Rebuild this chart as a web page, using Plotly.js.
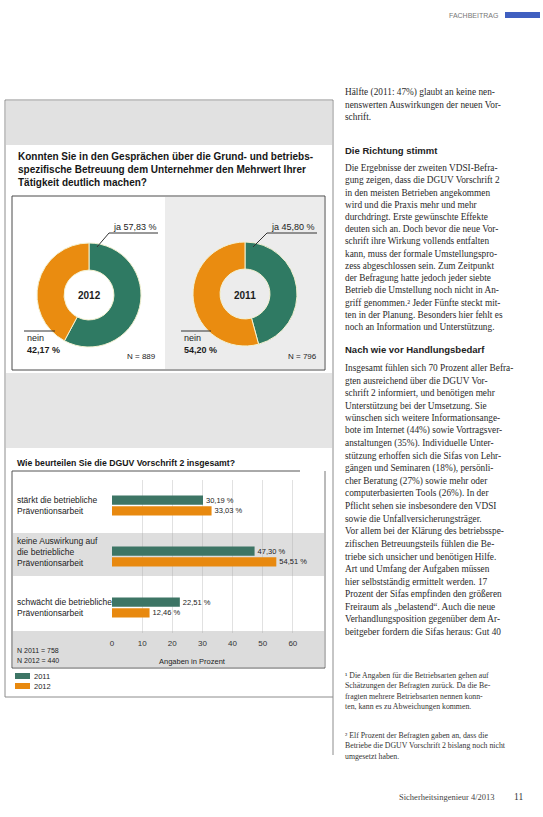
<!DOCTYPE html>
<html><head><meta charset="utf-8">
<script src="https://cdn.plot.ly/plotly-3.0.1.min.js"></script>
<style>html,body{margin:0;padding:0;background:#fff;} #chart{width:543px;height:817px;}</style>
</head><body><div id="chart"></div>
<script>
// ---------- data ----------
const pieYears = ['2012', '2011'];
const pieLabels = ['ja', 'nein'];
const pieJa = [57.83, 45.80];
const pieNein = [42.17, 54.20];
const pieN = [889, 796];

const barCategories = ['stärkt die betriebliche<br>Präventionsarbeit',
  'keine Auswirkung auf<br>die betriebliche<br>Präventionsarbeit',
  'schwächt die betriebliche<br>Präventionsarbeit'];
const barSeries = ['2011', '2012'];
const bar2011 = [30.19, 47.30, 22.51];
const bar2012 = [33.03, 54.51, 12.46];
const barN = ['N 2011 = 758', 'N 2012 = 440'];
const xTicks = [0, 10, 20, 30, 40, 50, 60];

const titlePie = 'Konnten Sie in den Gesprächen über die Grund- und betriebs-<br>spezifische Betreuung dem Unternehmer den Mehrwert Ihrer<br>Tätigkeit deutlich machen?';
const titleBar = 'Wie beurteilen Sie die DGUV Vorschrift 2 insgesamt?';
const axisTitle = 'Angaben in Prozent';

const para0 = ['Hälfte (2011: 47%) glaubt an keine nen-', 'nenswerten Auswirkungen der neuen Vor-', 'schrift.'];
const head1 = 'Die Richtung stimmt';
const para1 = ['Die Ergebnisse der zweiten VDSI-Befra-', 'gung zeigen, dass die DGUV Vorschrift 2',
  'in den meisten Betrieben angekommen', 'wird und die Praxis mehr und mehr',
  'durchdringt. Erste gewünschte Effekte', 'deuten sich an. Doch bevor die neue Vor-',
  'schrift ihre Wirkung vollends entfalten', 'kann, muss der formale Umstellungspro-',
  'zess abgeschlossen sein. Zum Zeitpunkt', 'der Befragung hatte jedoch jeder siebte',
  'Betrieb die Umstellung noch nicht in An-', 'griff genommen.² Jeder Fünfte steckt mit-',
  'ten in der Planung. Besonders hier fehlt es', 'noch an Information und Unterstützung.'];
const head2 = 'Nach wie vor Handlungsbedarf';
const para2 = ['Insgesamt fühlen sich 70 Prozent aller Befra-', 'gten ausreichend über die DGUV Vor-',
  'schrift 2 informiert, und benötigen mehr', 'Unterstützung bei der Umsetzung. Sie',
  'wünschen sich weitere Informationsange-', 'bote im Internet (44%) sowie Vortragsver-',
  'anstaltungen (35%). Individuelle Unter-', 'stützung erhoffen sich die Sifas von Lehr-',
  'gängen und Seminaren (18%), persönli-', 'cher Beratung (27%) sowie mehr oder',
  'computerbasierten Tools (26%). In der', 'Pflicht sehen sie insbesondere den VDSI',
  'sowie die Unfallversicherungsträger.', 'Vor allem bei der Klärung des betriebsspe-',
  'zifischen Betreuungsteils fühlen die Be-', 'triebe sich unsicher und benötigen Hilfe.',
  'Art und Umfang der Aufgaben müssen', 'hier selbstständig ermittelt werden. 17',
  'Prozent der Sifas empfinden den größeren', 'Freiraum als „belastend“. Auch die neue',
  'Verhandlungsposition gegenüber dem Ar-', 'beitgeber fordern die Sifas heraus: Gut 40'];
const foot1 = ['¹ Die Angaben für die Betriebsarten gehen auf', 'Schätzungen der Befragten zurück. Da die Be-',
  'fragten mehrere Betriebsarten nennen konn-', 'ten, kann es zu Abweichungen kommen.'];
const foot2 = ['² Elf Prozent der Befragten gaben an, dass die', 'Betriebe die DGUV Vorschrift 2 bislang noch nicht', 'umgesetzt haben.'];

// ---------- helpers ----------
const W = 543, H = 817;
const X = p => p / W, Y = p => 1 - p / H;
const green = '#2f7a63', orange = '#ea8c10';
const barGreen = '#3d7565', barOrange = '#e8890f';
const SANS = 'Liberation Sans, Arial, sans-serif';
const SERIF = 'Liberation Serif, Times New Roman, serif';
const de = v => v.toFixed(2).replace('.', ',');

const annotations = [];
function ann(text, px, py, o = {}) {
  annotations.push(Object.assign({
    text: text, x: X(px), y: Y(py), xref: 'paper', yref: 'paper', showarrow: false,
    xanchor: 'left', yanchor: 'middle', align: 'left',
    font: {family: o.family || SANS, size: o.size || 9, color: o.color || '#1c1c1c'}
  }, o.extra || {}));
}
const shapes = [];
function rect(x0, y0, x1, y1, fill, line, lw) {
  shapes.push({type: 'rect', xref: 'paper', yref: 'paper', x0: X(x0), x1: X(x1), y0: Y(y1), y1: Y(y0),
    fillcolor: fill || 'rgba(0,0,0,0)', line: {color: line || 'rgba(0,0,0,0)', width: lw === undefined ? 1 : lw}, layer: 'below'});
}
function line(x0, y0, x1, y1, color, lw) {
  shapes.push({type: 'line', xref: 'paper', yref: 'paper', x0: X(x0), x1: X(x1), y0: Y(y0), y1: Y(y1),
    line: {color: color || '#555', width: lw || 1}, layer: 'above'});
}

// ---------- page frame ----------
rect(6, 101, 332, 145, '#e1e1e1');
rect(165, 197, 324, 369, '#ececec');
rect(12, 196, 325, 370, null, '#4a4a4a', 1);
rect(6, 373, 332, 448, '#e5e5e5');
rect(13, 533, 324, 576, '#dedede');
rect(13, 631, 324, 667, '#dcdcdc');
rect(5, 100, 333, 697, null, '#8c8c8c', 1);
line(333, 697, 333, 755, '#8c8c8c', 1);
line(12, 471, 300, 471, '#555', 1);
line(12, 471, 12, 668, '#555', 1);
line(325, 471, 325, 668, '#777', 1);
line(12, 668, 325, 668, '#555', 1);
rect(505, 12, 540, 18, '#3f5fc0');

// ---------- pies ----------
const pieGeom = [{cx: 89, cy: 295, r: 52}, {cx: 245, cy: 294, r: 52}];
const traces = [];
pieYears.forEach((yr, i) => {
  const g = pieGeom[i];
  traces.push({
    type: 'pie', values: [pieJa[i], pieNein[i]], labels: pieLabels, hole: 0.48, sort: false,
    direction: 'clockwise', rotation: 0, textinfo: 'none', hoverinfo: 'label+percent',
    marker: {colors: [green, orange], line: {color: '#f4f1d0', width: 1}},
    domain: {x: [X(g.cx - g.r), X(g.cx + g.r)], y: [Y(g.cy + g.r), Y(g.cy - g.r)]}, showlegend: false
  });
  ann('<b>' + yr + '</b>', g.cx, g.cy + 1, {size: 10, extra: {xanchor: 'center'}});
});
// pie labels
const jaPos = [{x: 111, ux0: 109, ux1: 158, lx: 97}, {x: 269, ux0: 267, ux1: 317, lx: 253}];
const neinPos = [{x: 25, l1: 55}, {x: 182, l1: 211}];
const nPos = [158, 319];
pieYears.forEach((yr, i) => {
  const j = jaPos[i];
  ann(pieLabels[0] + ' ' + de(pieJa[i]) + ' %', j.x, 227, {size: 9});
  line(j.ux0, 233, j.ux1, 233, '#333', 1);
  line(j.ux0, 233, j.lx, 247, '#333', 1);
  const n = neinPos[i];
  line(n.x - 1, 331, n.l1, 331, '#333', 1);
  ann(pieLabels[1], n.x, 338, {size: 9});
  ann('<b>' + de(pieNein[i]) + ' %</b>', n.x, 350, {size: 9});
  ann('N = ' + pieN[i], nPos[i], 356, {size: 8, extra: {xanchor: 'right'}});
});

// ---------- bars ----------
[bar2011, bar2012].forEach((vals, k) => {
  traces.push({
    type: 'bar', orientation: 'h', y: barCategories, x: vals, name: barSeries[k],
    marker: {color: k === 0 ? barGreen : barOrange},
    texttemplate: '%{x:.2f} %', textposition: 'outside', cliponaxis: false, constraintext: 'none',
    textfont: {family: SANS, size: 7.5, color: '#222'}, hoverinfo: 'x+name',
    xaxis: 'x', yaxis: 'y', showlegend: false
  });
});
const labShift = [0, 5, 0];
barCategories.forEach((c, i) => {
  annotations.push({text: c, x: X(15), y: c, xref: 'paper', yref: 'y', showarrow: false,
    xanchor: 'left', yanchor: 'middle', align: 'left', yshift: labShift[i],
    font: {family: SANS, size: 8.5, color: '#222'}});
});
// legend (custom)
rect(15, 673, 30, 679, barGreen);
rect(15, 683, 30, 689, barOrange);
ann(barSeries[0], 32, 676, {size: 7.5});
ann(barSeries[1], 32, 686.5, {size: 7.5});
ann(barN[0], 15, 650, {size: 7});
ann(barN[1], 15, 660, {size: 7});
ann(axisTitle, 192, 661, {size: 7.5, extra: {xanchor: 'center'}});

// titles
ann('<b>' + titlePie + '</b>', 16, 170, {size: 10, color: '#161616'});
ann('<b>' + titleBar + '</b>', 15, 463, {size: 8.7, color: '#161616'});

// ---------- article column ----------
function lines(arr, px, py0, step, o) { arr.forEach((t, i) => ann(t, px, py0 + i * step, o)); }
const tc = {family: SERIF, size: 9.3, color: '#2a2a2a'};
lines(para0, 343, 92, 12.6, tc);
ann('<b>' + head1 + '</b>', 343, 150, {size: 9.5, color: '#222'});
lines(para1, 343, 168, 12.25, tc);
ann('<b>' + head2 + '</b>', 343, 349, {size: 9.5, color: '#222'});
lines(para2, 343, 368, 12.57, tc);
lines(foot1, 343, 675, 10.5, {family: SERIF, size: 7.8, color: '#333'});
lines(foot2, 343, 735, 10.5, {family: SERIF, size: 7.8, color: '#333'});
ann('FACHBEITRAG', 500, 15, {size: 7, color: '#777', extra: {xanchor: 'right'}});
ann('Sicherheitsingenieur 4/2013', 497, 797, {family: SERIF, size: 8.5, color: '#444', extra: {xanchor: 'right'}});
ann('11', 512, 797, {family: SERIF, size: 9.5, color: '#333'});

const layout = {
  width: W, height: H, margin: {l: 0, r: 0, t: 0, b: 0, pad: 0},
  paper_bgcolor: '#ffffff', plot_bgcolor: 'rgba(0,0,0,0)', separators: ',.',
  showlegend: false, barmode: 'group', bargap: 0.58, bargroupgap: 0.15,
  xaxis: {domain: [X(112), X(323)], range: [0, 70], tickvals: xTicks, showgrid: true,
    gridcolor: 'rgba(170,170,170,0.35)', zeroline: false, showline: false, ticks: '',
    tickfont: {family: SANS, size: 8, color: '#333'}, ticklabelstandoff: 4, fixedrange: true},
  yaxis: {domain: [Y(633), Y(480)], type: 'category', autorange: 'reversed', showticklabels: false,
    showgrid: false, zeroline: false, fixedrange: true},
  shapes: shapes, annotations: annotations
};
Plotly.newPlot('chart', traces, layout, {displayModeBar: false, staticPlot: true});
</script></body></html>
